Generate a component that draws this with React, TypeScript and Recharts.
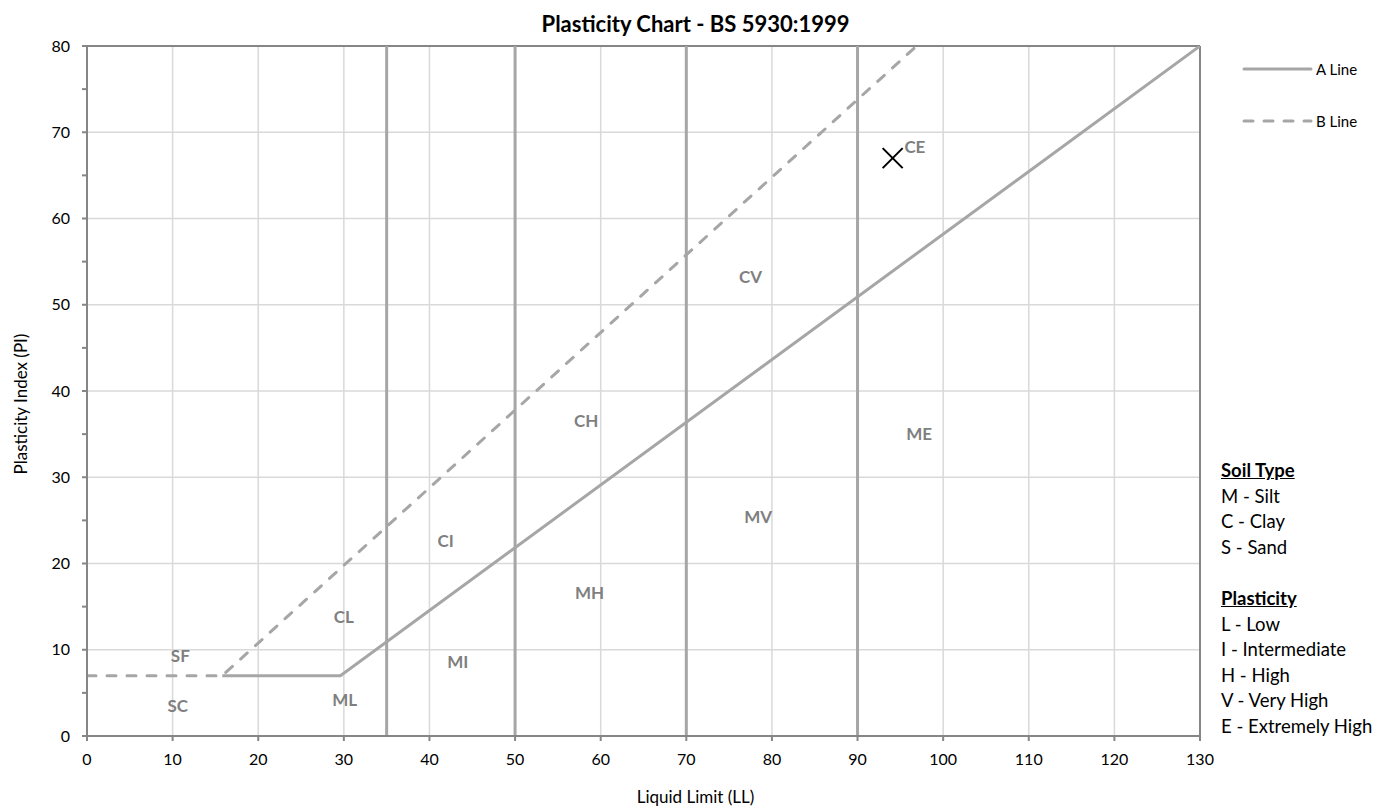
import {
  ComposedChart,
  Line,
  Scatter,
  XAxis,
  YAxis,
  CartesianGrid,
  ReferenceLine,
} from "recharts";

// Casagrande A line and B line (liquid limit / plasticity index pairs)
const aLine = [
  { ll: 15.8, pi: 7 },
  { ll: 29.6, pi: 7 },
  { ll: 130, pi: 80 },
];
const bLine = [
  { ll: 0, pi: 7 },
  { ll: 15.8, pi: 7 },
  { ll: 96.9, pi: 80 },
];

// boundaries between low / intermediate / high / very high / extremely high
const zoneBounds = [35, 50, 70, 90];

const zoneLabels = [
  { ll: 10.9, pi: 9.3, name: "SF" },
  { ll: 10.6, pi: 3.5, name: "SC" },
  { ll: 30, pi: 13.8, name: "CL" },
  { ll: 30.1, pi: 4.2, name: "ML" },
  { ll: 41.9, pi: 22.7, name: "CI" },
  { ll: 43.3, pi: 8.6, name: "MI" },
  { ll: 58.3, pi: 36.6, name: "CH" },
  { ll: 58.7, pi: 16.6, name: "MH" },
  { ll: 77.5, pi: 53.3, name: "CV" },
  { ll: 78.4, pi: 25.4, name: "MV" },
  { ll: 97.2, pi: 35.1, name: "ME" },
  { ll: 96.7, pi: 68.4, name: "CE" },
];

// tested sample
const sample = [{ ll: 94.1, pi: 67 }];

const xTicks = [0, 10, 20, 30, 40, 50, 60, 70, 80, 90, 100, 110, 120, 130];
const yTicks = [0, 5, 10, 15, 20, 25, 30, 35, 40, 45, 50, 55, 60, 65, 70, 75, 80];
const yGrid = [10, 20, 30, 40, 50, 60, 70];
const xGrid = [10, 20, 30, 40, 50, 60, 70, 80, 90, 100, 110, 120];

const soilTypes = ["M - Silt", "C - Clay", "S - Sand"];
const plasticity = ["L - Low", "I - Intermediate", "H - High", "V - Very High", "E - Extremely High"];

const FONT = "Lato, 'Open Sans', sans-serif";
const LINE_GREY = "#a6a6a6";
const AXIS_GREY = "#868686";

const ZoneText = (props: any) => (
  <text
    x={props.cx}
    y={props.cy}
    textAnchor="middle"
    dominantBaseline="central"
    fontFamily={FONT}
    fontWeight={700}
    fontSize={17}
    fill="#7f7f7f"
  >
    {props.payload.name}
  </text>
);

const Cross = (props: any) => {
  const { cx, cy } = props;
  const r = 10;
  return (
    <g stroke="#000" strokeWidth={2}>
      <line x1={cx - r} y1={cy - r} x2={cx + r} y2={cy + r} />
      <line x1={cx - r} y1={cy + r} x2={cx + r} y2={cy - r} />
    </g>
  );
};

export default function App() {
  const textStyle = { position: "absolute" as const, fontFamily: FONT, color: "#000" };
  return (
    <div style={{ position: "absolute", left: 0, top: 0, width: 1391, height: 809, background: "#fff" }}>
      <ComposedChart
        width={1391}
        height={809}
        margin={{ top: 46, right: 191, bottom: 28, left: 47 }}
      >
        <CartesianGrid
          stroke="#d9d9d9"
          strokeWidth={1.5}
          horizontalValues={yGrid}
          verticalValues={xGrid}
        />
        <XAxis
          type="number"
          dataKey="ll"
          domain={[0, 130]}
          ticks={xTicks}
          interval={0}
          height={45}
          stroke={AXIS_GREY}
          strokeWidth={2}
          tickSize={5}
          tickMargin={13}
          tick={{ fill: "#000", fontSize: 16, fontFamily: FONT }}
          allowDataOverflow
        />
        <YAxis
          type="number"
          dataKey="pi"
          domain={[0, 80]}
          ticks={yTicks}
          interval={0}
          width={40}
          stroke={AXIS_GREY}
          strokeWidth={2}
          tickSize={5}
          tickMargin={12}
          tickFormatter={(v: number) => (v % 10 === 0 ? String(v) : "")}
          tick={{ fill: "#000", fontSize: 16, fontFamily: FONT }}
          allowDataOverflow
        />
        <ReferenceLine y={80} stroke={AXIS_GREY} strokeWidth={2} />
        <ReferenceLine x={130} stroke={AXIS_GREY} strokeWidth={2} />
        {zoneBounds.map((x) => (
          <ReferenceLine key={x} x={x} stroke={LINE_GREY} strokeWidth={3} />
        ))}
        <Line
          data={bLine}
          dataKey="pi"
          stroke={LINE_GREY}
          strokeWidth={3}
          strokeDasharray="9 11"
          strokeLinecap="round"
          dot={false}
          activeDot={false}
          isAnimationActive={false}
        />
        <Line
          data={aLine}
          dataKey="pi"
          stroke={LINE_GREY}
          strokeWidth={3}
          dot={false}
          activeDot={false}
          isAnimationActive={false}
        />
        <Scatter data={zoneLabels} shape={ZoneText} isAnimationActive={false} />
        <Scatter data={sample} shape={Cross} isAnimationActive={false} />
      </ComposedChart>

      <div
        style={{
          ...textStyle,
          left: 0,
          width: 1391,
          top: 10,
          textAlign: "center",
          fontWeight: 700,
          fontSize: 22,
          lineHeight: "28px",
        }}
      >
        Plasticity Chart - BS 5930:1999
      </div>
      <div
        style={{ ...textStyle, left: 0, width: 1391, top: 786, textAlign: "center", fontSize: 17, lineHeight: "22px" }}
      >
        Liquid Limit (LL)
      </div>
      <div
        style={{
          ...textStyle,
          left: 20,
          top: 404,
          fontSize: 17,
          whiteSpace: "nowrap",
          transform: "translate(-50%, -50%) rotate(-90deg)",
        }}
      >
        Plasticity Index (PI)
      </div>

      <svg style={{ position: "absolute", left: 1240, top: 60 }} width={80} height={80}>
        <line x1={4} y1={9} x2={71} y2={9} stroke={LINE_GREY} strokeWidth={3} strokeLinecap="round" />
        <line
          x1={4}
          y1={61}
          x2={71}
          y2={61}
          stroke={LINE_GREY}
          strokeWidth={3}
          strokeDasharray="9 11"
          strokeLinecap="round"
        />
      </svg>
      <div style={{ ...textStyle, left: 1316, top: 59, fontSize: 15, lineHeight: "20px" }}>A Line</div>
      <div style={{ ...textStyle, left: 1316, top: 111, fontSize: 15, lineHeight: "20px" }}>B Line</div>

      <div style={{ ...textStyle, left: 1221, top: 458, fontSize: 18.5, lineHeight: "25.6px" }}>
        <div style={{ fontWeight: 700, textDecoration: "underline" }}>Soil Type</div>
        {soilTypes.map((s) => (
          <div key={s}>{s}</div>
        ))}
        <div style={{ height: 25.6 }} />
        <div style={{ fontWeight: 700, textDecoration: "underline" }}>Plasticity</div>
        {plasticity.map((s) => (
          <div key={s}>{s}</div>
        ))}
      </div>
    </div>
  );
}
